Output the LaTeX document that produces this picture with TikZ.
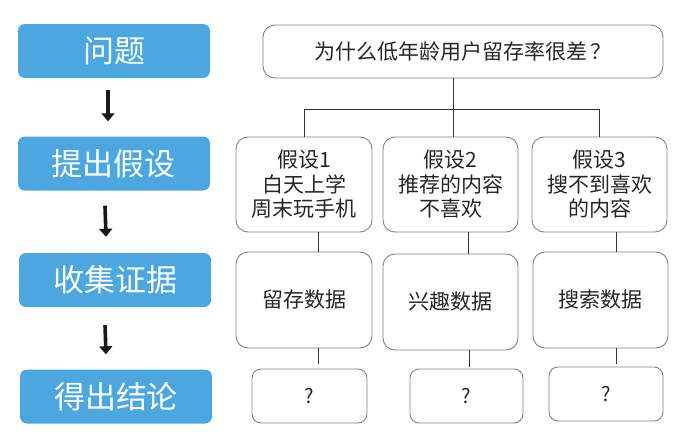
\documentclass[tikz,border=0pt]{standalone}
\usepackage{fontspec}
\setmainfont{Noto Sans CJK SC}
\usetikzlibrary{arrows.meta}
\definecolor{stageblue}{RGB}{76,167,224}
\definecolor{cardline}{RGB}{130,130,130}
\definecolor{linkgray}{RGB}{50,50,50}
\begin{document}
\begin{tikzpicture}[x=1pt,y=1pt]

\tikzstyle{stage} = [rectangle,rounded corners=7,fill=stageblue,text=white,minimum width=192,minimum height=54,inner sep=0,font=\fontsize{31}{34}\selectfont];
\tikzstyle{card} = [rectangle,rounded corners=12,draw=cardline,line width=0.9pt,text=black!85,inner sep=0,align=center,font=\fontsize{21}{24.5}\selectfont];
\tikzstyle{flow} = [-{Triangle[width=13pt,length=8pt]},line width=3.6pt,black!90];
\tikzstyle{link} = [linkgray,line width=1pt];

\useasboundingbox (0,0) rectangle (689,-442);

% left column
\node[stage] (v1) at (114,-51) {问题};
\node[stage] (v2) at (114,-163.5) {提出假设};
\node[stage] (v3) at (115,-280) {收集证据};
\node[stage] (v4) at (116,-396.5) {得出结论};

\draw [flow] ([xshift=-6,yshift=-12]v1.south) -- ([xshift=-6,yshift=15]v2.north);
\draw [flow] ([xshift=-9,yshift=-15]v2.south) -- ([xshift=-9,yshift=16]v3.north);
\draw [flow] ([xshift=-10,yshift=-18]v3.south) -- ([xshift=-10,yshift=15]v4.north);

% question
\node[card,minimum width=400,minimum height=53] (v0) at (463,-51.5) {为什么低年龄用户留存率很差\,？};

% hypotheses
\node[card,minimum width=136,minimum height=95] (v5) at (304,-184.5) {假设1\\白天上学\\周末玩手机};
\node[card,minimum width=135,minimum height=95] (v6) at (450.5,-184.5) {假设2\\推荐的内容\\不喜欢};
\node[card,minimum width=135,minimum height=95] (v7) at (599.5,-184.5) {假设3\\搜不到喜欢\\的内容};

% evidence
\node[card,minimum width=136,minimum height=96] (v8) at (304,-300) {留存数据};
\node[card,minimum width=135,minimum height=96] (v9) at (450.5,-302) {兴趣数据};
\node[card,minimum width=135,minimum height=96] (v10) at (600.5,-300) {搜索数据};

% conclusions
\node[card,rounded corners=9,minimum width=115,minimum height=54,font=\fontsize{20}{24}\selectfont] (v11) at (309.5,-396) {?};
\node[card,rounded corners=9,minimum width=113,minimum height=54,font=\fontsize{20}{24}\selectfont] (v12) at (466.5,-396) {?};
\node[card,rounded corners=9,minimum width=114,minimum height=54,font=\fontsize{20}{24}\selectfont] (v13) at (606,-394) {?};

% tree
\coordinate (j) at (453,-109);
\draw [link] (j |- v0.south) -- (j);
\draw [link] (v5.north) -- (v5.north |- j) -- (v7.north |- j) -- (v7.north);
\draw [link] (j) -- (j |- v6.north);

\draw [link] ([xshift=14]v5.south) -- ([xshift=14]v8.north);
\draw [link] ([xshift=17.5]v6.south) -- ([xshift=17.5]v9.north);
\draw [link] ([xshift=16.5]v7.south) -- ([xshift=15.5]v10.north);

\draw [link] ([xshift=14]v8.south) -- ([xshift=14,yshift=-16]v8.south);
\draw [link] ([xshift=18.5]v9.south) -- ([xshift=18.5,yshift=-17]v9.south);
\draw [link] ([xshift=15.5]v10.south) -- ([xshift=15.5,yshift=-16]v10.south);
\end{tikzpicture}
\end{document}
